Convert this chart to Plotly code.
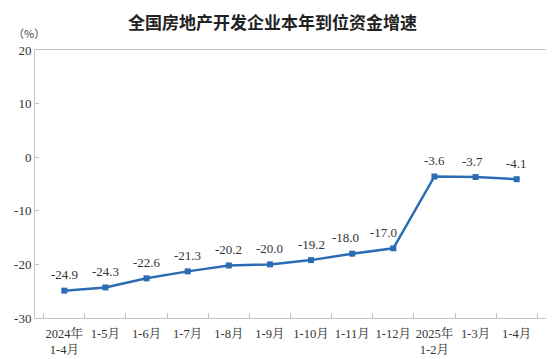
import plotly.graph_objects as go

categories = ["2024年<br>1-4月", "1-5月", "1-6月", "1-7月", "1-8月", "1-9月", "1-10月",
              "1-11月", "1-12月", "2025年<br>1-2月", "1-3月", "1-4月"]
values = [-24.9, -24.3, -22.6, -21.3, -20.2, -20.0, -19.2, -18.0, -17.0, -3.6, -3.7, -4.1]
labels = ["-24.9", "-24.3", "-22.6", "-21.3", "-20.2", "-20.0", "-19.2", "-18.0", "-17.0", "-3.6", "-3.7", "-4.1"]
y_ticks = [20, 10, 0, -10, -20, -30]

# horizontal nudges (px) for a few value labels, as in the reference
label_nudge = {"1-11月": -7, "1-12月": -10, "1-3月": -3}

serif = "Liberation Serif, Times New Roman, Noto Serif CJK SC, Noto Sans CJK SC, serif"
line_color = "#2c6cb5"
axis_color = "#c4c4c4"

fig = go.Figure()
fig.add_trace(go.Scatter(
    x=categories, y=values, mode="lines+markers",
    line=dict(color=line_color, width=2.5),
    marker=dict(symbol="square", size=6, color=line_color),
    hoverinfo="skip", showlegend=False,
))

for c, v, t in zip(categories, values, labels):
    fig.add_annotation(x=c, y=v, text=t, showarrow=False, yshift=16,
                       xshift=label_nudge.get(c, 0),
                       font=dict(family=serif, size=13, color="#333333"))

fig.add_annotation(xref="paper", yref="paper", x=(272 - 35) / 511, y=1, yshift=29,
                   text="全国房地产开发企业本年到位资金增速", showarrow=False,
                   font=dict(family="Noto Sans CJK SC", size=17, color="#222222", weight="bold"),
                   xanchor="center", yanchor="middle")
fig.add_annotation(xref="paper", yref="paper", x=0, y=1, xshift=-24, yshift=17,
                   text="（%）", showarrow=False,
                   font=dict(family="Noto Sans CJK SC", size=11, color="#444444"),
                   xanchor="left", yanchor="middle")

fig.update_layout(
    width=546, height=351,
    margin=dict(l=27, r=8, t=42, b=41, autoexpand=False),
    plot_bgcolor="white", paper_bgcolor="white",
)
fig.update_xaxes(
    type="category", showline=True, linecolor=axis_color, linewidth=1, mirror=True,
    ticks="inside", tickson="boundaries", ticklen=5, tickcolor=axis_color,
    showgrid=False, zeroline=False, tickangle=0, automargin=False,
    ticklabelstandoff=4,
    tickfont=dict(family=serif, size=12.5, color="#333333"),
)
fig.update_yaxes(
    range=[-30, 20], tickvals=y_ticks, ticktext=[str(v) for v in y_ticks],
    showline=True, linecolor=axis_color, linewidth=1, mirror=True,
    ticks="inside", ticklen=4, tickcolor=axis_color,
    showgrid=False, zeroline=False, automargin=False,
    tickfont=dict(family=serif, size=13, color="#333333"),
)

fig.write_html("out.html")
